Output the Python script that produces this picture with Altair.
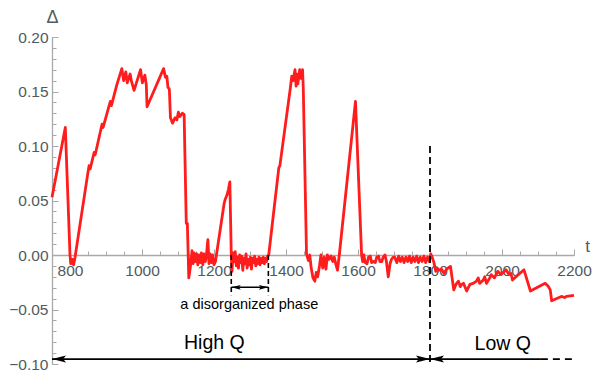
import altair as alt
import pandas as pd

# ---- main series (t, Δ) ----
t_vals = [750, 787, 800, 802, 806, 810, 814,
          850, 853, 856, 867, 870, 889, 892, 896, 912, 915, 919, 930, 944,
          949, 955, 959, 967, 971, 978, 996, 1001, 1008, 1012, 1014,
          1060, 1065, 1069, 1072, 1076, 1079, 1085, 1092, 1097, 1101, 1105, 1112, 1117,
          1123, 1126, 1130, 1134,
          1139, 1142, 1145, 1148, 1152, 1155, 1158, 1162, 1165, 1169, 1172, 1176, 1179,
          1183, 1186, 1189, 1193, 1196, 1200, 1204,
          1228, 1231, 1236, 1240, 1244, 1248,
          1250, 1253, 1256, 1259, 1262, 1265, 1268, 1271, 1274, 1277, 1280, 1283, 1286,
          1289, 1292, 1295, 1298, 1301, 1304, 1307, 1310, 1313, 1316, 1319, 1322, 1325,
          1328, 1331, 1334, 1337, 1340, 1343, 1346, 1349, 1352,
          1380, 1383, 1412, 1416, 1420, 1425, 1428, 1431, 1433, 1438, 1442, 1446, 1448, 1457,
          1462, 1466, 1470, 1475, 1480, 1484, 1488, 1493, 1497, 1502, 1506, 1511, 1515,
          1520, 1525, 1530, 1534, 1539, 1543, 1548,
          1593, 1610,
          1613, 1616, 1620, 1625, 1629, 1634, 1638, 1643, 1648, 1652, 1657, 1661, 1666,
          1670, 1675, 1679, 1684, 1689, 1693, 1698,
          1702, 1708, 1713, 1718, 1723, 1728, 1733, 1738, 1743, 1748, 1753, 1758, 1763,
          1768, 1773, 1778, 1783, 1788, 1793, 1798, 1802,
          1806, 1811, 1816, 1820, 1825, 1832, 1839, 1846, 1852, 1857, 1866, 1872, 1879,
          1884, 1888, 1893, 1902, 1911, 1920, 1929, 1934, 1938, 1948, 1952, 1957, 1966,
          1970, 1979, 1988, 1997, 2011, 2020, 2025, 2029, 2061, 2079, 2120, 2129, 2134,
          2138, 2165, 2174, 2179, 2200]

delta_vals = [0.053, 0.117, 0.000, -0.008, -0.004, -0.009, -0.002,
              0.076, 0.082, 0.079, 0.094, 0.092, 0.120, 0.117, 0.122, 0.141, 0.137, 0.142, 0.156, 0.171,
              0.160, 0.168, 0.158, 0.166, 0.159, 0.151, 0.170, 0.158, 0.165, 0.156, 0.136,
              0.171, 0.163, 0.164, 0.154, 0.152, 0.126, 0.121, 0.126, 0.124, 0.131, 0.127, 0.130, 0.129,
              0.029, 0.029, -0.021, -0.012,
              0.004, -0.008, 0.002, -0.006, 0.001, -0.009, 0.000, -0.007, 0.002, -0.009, 0.001, -0.006, 0.000,
              0.014, -0.008, 0.001, -0.007, 0.000, -0.009, -0.006,
              0.047, 0.051, 0.055, 0.060, 0.067, 0.000,
              -0.015, 0.002, -0.006, 0.003, -0.010, -0.002, -0.012, 0.000, -0.007, -0.001, -0.014, -0.003, -0.008,
              0.001, -0.012, -0.004, -0.009, -0.002, -0.013, -0.003, -0.007, -0.001, -0.010, -0.004, -0.008, -0.002,
              -0.009, -0.003, -0.007, -0.002, -0.008, -0.003, -0.006, -0.001, 0.000,
              0.080, 0.082, 0.153, 0.164, 0.160, 0.170, 0.155, 0.166, 0.157, 0.170, 0.162, 0.170, 0.153, 0.001,
              -0.005, 0.000, -0.012, -0.021, -0.024, -0.016, -0.020, -0.010, 0.000, -0.012, -0.002, -0.013, 0.000,
              -0.004, -0.001, -0.006, -0.002, -0.009, -0.014, 0.000,
              0.141, 0.000,
              -0.006, 0.000, -0.007, -0.008, -0.002, -0.001, -0.007, -0.006, -0.007, -0.002, -0.001, -0.006, -0.006,
              -0.002, 0.000, -0.006, -0.020, -0.008, -0.004, -0.002,
              -0.002, -0.007, -0.001, -0.006, -0.002, -0.007, -0.002, -0.006, -0.001, -0.007, -0.002, -0.006, -0.001,
              -0.007, -0.002, -0.006, -0.001, -0.007, -0.002, -0.006, 0.001,
              -0.002, -0.007, -0.015, -0.012, -0.014, -0.013, -0.017, -0.013, -0.0115, -0.0105, -0.032, -0.027, -0.024,
              -0.029, -0.027, -0.026, -0.033, -0.027, -0.026, -0.024, -0.021, -0.026, -0.023, -0.020, -0.026, -0.021,
              -0.018, -0.021, -0.015, -0.018, -0.0136, -0.018, -0.017, -0.023, -0.0136, -0.033, -0.026, -0.029, -0.032,
              -0.042, -0.038, -0.039, -0.038, -0.037]

# ---- axis ticks ----
x_major = [800, 1000, 1200, 1400, 1600, 1800, 2000, 2200]
x_minor = [800, 850, 900, 950, 1000, 1050, 1100, 1150, 1200, 1250, 1300, 1350, 1400, 1450,
           1500, 1550, 1600, 1650, 1700, 1750, 1800, 1850, 1900, 1950, 2000, 2050, 2100, 2150, 2200]
y_major = [-0.10, -0.05, 0.00, 0.05, 0.10, 0.15, 0.20]
y_minor = [-0.10, -0.09, -0.08, -0.07, -0.06, -0.05, -0.04, -0.03, -0.02, -0.01, 0.00,
           0.01, 0.02, 0.03, 0.04, 0.05, 0.06, 0.07, 0.08, 0.09, 0.10,
           0.11, 0.12, 0.13, 0.14, 0.15, 0.16, 0.17, 0.18, 0.19, 0.20]

# ---- annotations ----
split_t = [1800]
split_y1 = [0.10]
split_y2 = [-0.10]

arrow_y = -0.0955
solid_t1 = [750, 1800]
solid_t2 = [1800, 2108]
dashed_t1 = [2108]
dashed_t2 = [2200]
head_t = [750, 1800, 1800]
head_dir = ["left", "right", "left"]

phase_t = [1248, 1351]
phase_y1 = [0.0, 0.0]
phase_y2 = [-0.037, -0.037]
phase_arrow_y = -0.0296
phase_head_dir = ["left", "right"]

label_text = ["High Q", "Low Q"]
label_t = [1201, 2002]
label_y = [-0.081, -0.0815]
phase_label = ["a disorganized phase"]
phase_label_t = [1298]
phase_label_y = [-0.0455]

FONT = "Liberation Sans"
LBL = "#505a60"
TICK = "#a9a9a9"

W, H = 522, 327
ZERO_FROM_BOTTOM = H / 3.0

xs = alt.Scale(domain=[750, 2200], nice=False, zero=False)
ys = alt.Scale(domain=[-0.1, 0.2], nice=False, zero=False)

RIGHT = "M0,0 L-2,-0.5 L-1.6,0 L-2,0.5 Z"
LEFT = "M0,0 L2,-0.5 L1.6,0 L2,0.5 Z"
RIGHT_S = "M0,0 L-2,-0.65 L-1.6,0 L-2,0.65 Z"
LEFT_S = "M0,0 L2,-0.65 L1.6,0 L2,0.65 Z"

x_label_axis = alt.Axis(orient="bottom", offset=-ZERO_FROM_BOTTOM, values=x_major, format="d", ticks=False,
                        tickSize=0, grid=False, domain=True, domainColor=TICK, domainWidth=1.3,
                        labelFont=FONT, labelFontSize=15.5, labelColor=LBL, labelPadding=8,
                        labelFlush=False, labelOverlap=False,
                        title="t", titleFont=FONT, titleFontSize=17, titleFontWeight="normal",
                        titleColor=LBL, titleAngle=0, titleX=535, titleY=-9,
                        titleAlign="center", titleBaseline="middle")
y_label_axis = alt.Axis(orient="left", values=y_major, format=".2f", ticks=False, tickSize=0,
                        grid=False, domain=True, domainColor=TICK, domainWidth=1.3,
                        labelFont=FONT, labelFontSize=15.5, labelColor=LBL, labelPadding=4,
                        labelFlush=False, labelOverlap=False,
                        title="Δ", titleFont=FONT, titleFontSize=18, titleFontWeight="normal",
                        titleColor=LBL, titleAngle=0, titleX=0, titleY=-20,
                        titleAlign="center", titleBaseline="middle")
x_major_axis = alt.Axis(orient="top", offset=-(H - ZERO_FROM_BOTTOM), values=x_major, labels=False,
                        domain=False, grid=False, ticks=True, tickSize=6, tickColor=TICK, tickWidth=1,
                        title=None)
x_minor_axis = alt.Axis(orient="top", offset=-(H - ZERO_FROM_BOTTOM), values=x_minor, labels=False,
                        domain=False, grid=False, ticks=True, tickSize=4, tickColor=TICK, tickWidth=1,
                        title=None)
y_major_axis = alt.Axis(orient="right", offset=-W, values=y_major, labels=False, domain=False,
                        grid=False, ticks=True, tickSize=6, tickColor=TICK, tickWidth=1, title=None)
y_minor_axis = alt.Axis(orient="right", offset=-W, values=y_minor, labels=False, domain=False,
                        grid=False, ticks=True, tickSize=4, tickColor=TICK, tickWidth=1, title=None)

main = pd.DataFrame({"t": t_vals, "d": delta_vals})
line = alt.Chart(main).mark_line(color="#ff1c1c", strokeWidth=2.8, strokeJoin="round").encode(
    x=alt.X("t:Q", scale=xs, axis=x_label_axis),
    y=alt.Y("d:Q", scale=ys, axis=y_label_axis),
)

split = alt.Chart(pd.DataFrame({"t": split_t, "y1": split_y1, "y2": split_y2})).mark_rule(
    color="black", strokeWidth=1.8, strokeDash=[7, 4]).encode(
    x=alt.X("t:Q", scale=xs, axis=x_major_axis),
    y=alt.Y("y1:Q", scale=ys, axis=y_major_axis),
    y2="y2:Q",
)

solid = alt.Chart(pd.DataFrame({"a": solid_t1, "b": solid_t2, "y": [arrow_y] * len(solid_t1)})).mark_rule(
    color="black", strokeWidth=1.6).encode(
    x=alt.X("a:Q", scale=xs, axis=x_minor_axis),
    x2="b:Q",
    y=alt.Y("y:Q", scale=ys, axis=y_minor_axis),
)
dashed = alt.Chart(pd.DataFrame({"a": dashed_t1, "b": dashed_t2, "y": [arrow_y]})).mark_rule(
    color="black", strokeWidth=1.6, strokeDash=[7, 5]).encode(
    x=alt.X("a:Q", scale=xs, axis=None),
    x2="b:Q",
    y=alt.Y("y:Q", scale=ys, axis=None),
)
heads = alt.Chart(pd.DataFrame({"t": head_t, "y": [arrow_y] * 3, "dir": head_dir})).mark_point(
    filled=True, size=196, opacity=1, color="black", strokeWidth=0).encode(
    x=alt.X("t:Q", scale=xs, axis=None),
    y=alt.Y("y:Q", scale=ys, axis=None),
    shape=alt.Shape("dir:N", scale=alt.Scale(domain=["left", "right"], range=[LEFT, RIGHT]), legend=None),
)

phase_lines = alt.Chart(pd.DataFrame({"t": phase_t, "y1": phase_y1, "y2": phase_y2})).mark_rule(
    color="black", strokeWidth=1.6, strokeDash=[5, 3]).encode(
    x=alt.X("t:Q", scale=xs, axis=None),
    y=alt.Y("y1:Q", scale=ys, axis=None),
    y2="y2:Q",
)
phase_arrow = alt.Chart(pd.DataFrame({"a": [phase_t[0]], "b": [phase_t[1]], "y": [phase_arrow_y]})).mark_rule(
    color="black", strokeWidth=1.6).encode(
    x=alt.X("a:Q", scale=xs, axis=None),
    x2="b:Q",
    y=alt.Y("y:Q", scale=ys, axis=None),
)
phase_heads = alt.Chart(pd.DataFrame({"t": phase_t, "y": [phase_arrow_y] * 2, "dir": phase_head_dir})).mark_point(
    filled=True, size=90, opacity=1, color="black", strokeWidth=0).encode(
    x=alt.X("t:Q", scale=xs, axis=None),
    y=alt.Y("y:Q", scale=ys, axis=None),
    shape=alt.Shape("dir:N", scale=alt.Scale(domain=["left", "right"], range=[LEFT_S, RIGHT_S]), legend=None),
)

labels = alt.Chart(pd.DataFrame({"t": label_t, "y": label_y, "s": label_text})).mark_text(
    font=FONT, fontSize=19.5, color="black", align="center", baseline="middle").encode(
    x=alt.X("t:Q", scale=xs, axis=None),
    y=alt.Y("y:Q", scale=ys, axis=None),
    text="s:N",
)
phase_text = alt.Chart(pd.DataFrame({"t": phase_label_t, "y": phase_label_y, "s": phase_label})).mark_text(
    font=FONT, fontSize=14.5, color="black", align="center", baseline="middle").encode(
    x=alt.X("t:Q", scale=xs, axis=None),
    y=alt.Y("y:Q", scale=ys, axis=None),
    text="s:N",
)

chart = alt.layer(line, split, solid, dashed, heads, phase_lines, phase_arrow, phase_heads,
                  labels, phase_text).resolve_axis(x="independent", y="independent").properties(
    width=W, height=H,
    padding={"left": 44, "top": 29, "right": 18, "bottom": 7},
    autosize=alt.AutoSizeParams(type="none"),
).configure_view(strokeWidth=0)

chart.save("out.html", embed_options={"renderer": "svg", "actions": False})
